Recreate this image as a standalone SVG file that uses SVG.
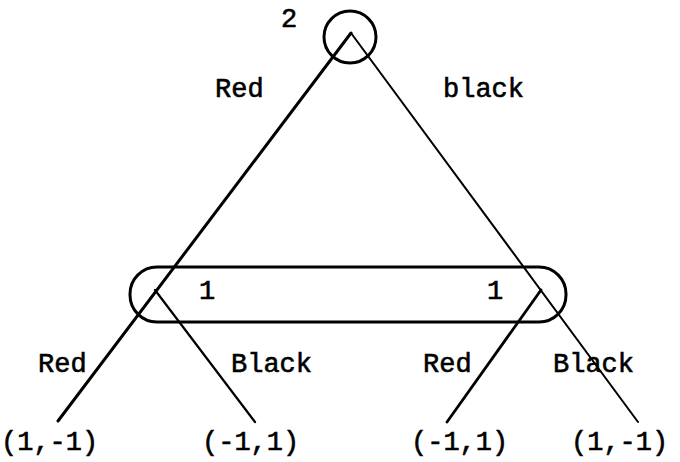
<svg xmlns="http://www.w3.org/2000/svg" width="680" height="462" viewBox="0 0 680 462">
<style>
text{font-family:"Liberation Mono","DejaVu Sans Mono",monospace;font-size:27px;fill:#000;stroke:#000;stroke-width:0.6}
.ln{stroke:#000;fill:none;stroke-linecap:round}
.nd{stroke:#000;fill:none;stroke-width:3}
</style>
<rect width="680" height="462" fill="#fff"/>
<g id="connectors">
<line class="ln" x1="351" y1="33" x2="58" y2="421" stroke-width="3"/>
<line class="ln" x1="351" y1="33" x2="638" y2="422" stroke-width="2"/>
<line class="ln" x1="155" y1="290" x2="255" y2="422" stroke-width="2.2"/>
<line class="ln" x1="541" y1="290" x2="447" y2="422" stroke-width="2.8"/>
<text x="215" y="97">Red</text>
<text x="443" y="97">black</text>
<text x="38" y="372">Red</text>
<text x="231" y="372">Black</text>
<text x="423" y="372">Red</text>
<text x="553" y="372">Black</text>
</g>
<g id="node-2">
<circle class="nd" cx="350" cy="37" r="26"/>
<text x="281" y="27">2</text>
</g>
<g id="node-1">
<rect class="nd" x="130" y="267" width="436" height="55" rx="27"/>
<text x="199" y="299">1</text>
<text x="487" y="299">1</text>
</g>
<g id="payoffs">
<text x="1" y="450">(1,-1)</text>
<text x="202" y="450">(-1,1)</text>
<text x="411" y="450">(-1,1)</text>
<text x="571" y="450">(1,-1)</text>
</g>
</svg>
